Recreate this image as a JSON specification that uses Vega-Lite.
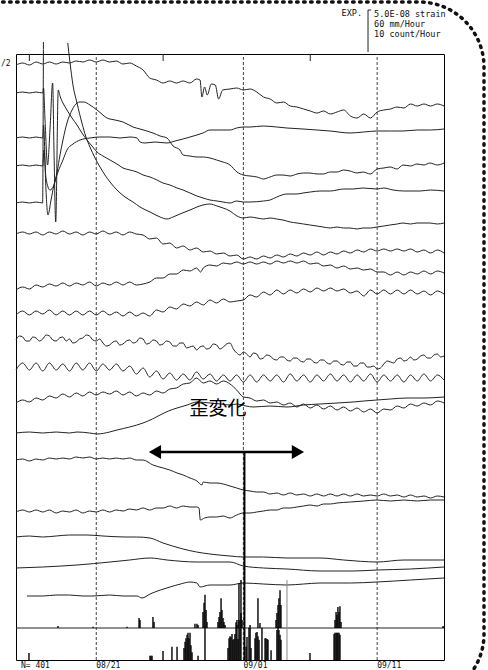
{
"$schema": "https://vega.github.io/schema/vega-lite/v6.json",
"width": 428, "height": 606,
"autosize": {"type": "none"},
"padding": {"left": 16, "top": 54, "right": 44, "bottom": 10},
"background": "white",
"config": {"view": {"stroke": "#000", "strokeWidth": 1}},
"datasets": {
"tr": [
{"s":"a","t":0,"v":595},{"s":"a","t":0.5,"v":597},{"s":"a","t":1,"v":595},{"s":"a","t":1.5,"v":598},{"s":"a","t":2,"v":596},{"s":"a","t":2.5,"v":598},{"s":"a","t":3,"v":596},{"s":"a","t":3.5,"v":598},{"s":"a","t":4,"v":597},{"s":"a","t":4.5,"v":599},{"s":"a","t":5,"v":598},{"s":"a","t":5.5,"v":600},{"s":"a","t":6,"v":598},{"s":"a","t":6.5,"v":600},{"s":"a","t":7,"v":598},{"s":"a","t":7.5,"v":599},{"s":"a","t":8,"v":596},{"s":"a","t":8.5,"v":597},{"s":"a","t":9,"v":594},{"s":"a","t":9.5,"v":590},{"s":"a","t":10,"v":582},{"s":"a","t":10.5,"v":580},{"s":"a","t":11,"v":577},{"s":"a","t":11.5,"v":579},{"s":"a","t":12,"v":577},{"s":"a","t":12.5,"v":579},{"s":"a","t":13,"v":577},{"s":"a","t":13.5,"v":581},{"s":"a","t":13.76,"v":580},{"s":"a","t":13.9,"v":563},{"s":"a","t":14.1,"v":573},{"s":"a","t":14.3,"v":565},{"s":"a","t":14.6,"v":576},{"s":"a","t":14.9,"v":575},{"s":"a","t":15.15,"v":561},{"s":"a","t":15.45,"v":570},{"s":"a","t":16,"v":571},{"s":"a","t":16.5,"v":572},{"s":"a","t":17,"v":570},{"s":"a","t":17.5,"v":571},{"s":"a","t":18,"v":568},{"s":"a","t":18.5,"v":563},{"s":"a","t":19,"v":561},{"s":"a","t":19.5,"v":557},{"s":"a","t":20,"v":558},{"s":"a","t":20.5,"v":554},{"s":"a","t":21,"v":553},{"s":"a","t":21.5,"v":551},{"s":"a","t":22,"v":549},{"s":"a","t":22.5,"v":547},{"s":"a","t":23,"v":549},{"s":"a","t":23.5,"v":546},{"s":"a","t":24,"v":548},{"s":"a","t":24.5,"v":550},{"s":"a","t":25,"v":544},{"s":"a","t":25.5,"v":542},{"s":"a","t":26,"v":546},{"s":"a","t":26.5,"v":542},{"s":"a","t":27,"v":548},{"s":"a","t":27.5,"v":550},{"s":"a","t":28,"v":551},{"s":"a","t":28.5,"v":553},{"s":"a","t":29,"v":552},{"s":"a","t":29.5,"v":556},{"s":"a","t":30,"v":554},{"s":"a","t":30.5,"v":556},{"s":"a","t":31,"v":554},{"s":"a","t":31.5,"v":556},{"s":"a","t":32,"v":554},
{"s":"b","t":0,"v":567},{"s":"b","t":0.5,"v":568},{"s":"b","t":1,"v":567},{"s":"b","t":1.5,"v":568},{"s":"b","t":2,"v":567},{"s":"b","t":2.06,"v":572},{"s":"b","t":2.17,"v":540},{"s":"b","t":2.36,"v":495},{"s":"b","t":2.54,"v":530},{"s":"b","t":2.74,"v":577},{"s":"b","t":2.84,"v":510},{"s":"b","t":2.97,"v":438},{"s":"b","t":3.16,"v":570},{"s":"b","t":3.29,"v":564},{"s":"b","t":3.51,"v":557},{"s":"b","t":3.81,"v":550},{"s":"b","t":4.19,"v":542},{"s":"b","t":4.56,"v":535},{"s":"b","t":4.93,"v":527},{"s":"b","t":5.31,"v":520},{"s":"b","t":5.68,"v":514},{"s":"b","t":6.06,"v":508},{"s":"b","t":6.5,"v":504},{"s":"b","t":7.03,"v":500},{"s":"b","t":7.55,"v":496},{"s":"b","t":8,"v":492},{"s":"b","t":8.52,"v":490},{"s":"b","t":9.05,"v":488},{"s":"b","t":9.5,"v":485},{"s":"b","t":10.02,"v":483},{"s":"b","t":10.54,"v":480},{"s":"b","t":10.99,"v":477},{"s":"b","t":11.51,"v":475},{"s":"b","t":12.04,"v":472},{"s":"b","t":12.49,"v":470},{"s":"b","t":13.01,"v":467},{"s":"b","t":13.53,"v":464},{"s":"b","t":13.98,"v":462},{"s":"b","t":14.5,"v":460},{"s":"b","t":15.03,"v":459},{"s":"b","t":15.48,"v":458},{"s":"b","t":16,"v":457},{"s":"b","t":16.5,"v":459},{"s":"b","t":17,"v":458},{"s":"b","t":17.5,"v":458},{"s":"b","t":18.5,"v":459},{"s":"b","t":19,"v":460},{"s":"b","t":19.5,"v":463},{"s":"b","t":20.26,"v":466},{"s":"b","t":21,"v":466},{"s":"b","t":21.46,"v":467},{"s":"b","t":22,"v":468},{"s":"b","t":22.73,"v":469},{"s":"b","t":23.5,"v":469},{"s":"b","t":24.5,"v":471},{"s":"b","t":25.2,"v":471},{"s":"b","t":25.94,"v":472},{"s":"b","t":26.99,"v":471},{"s":"b","t":27.5,"v":472},{"s":"b","t":28.19,"v":470},{"s":"b","t":29,"v":469},{"s":"b","t":30.21,"v":469},{"s":"b","t":31,"v":470},{"s":"b","t":32,"v":469},
{"s":"c","t":0,"v":522},{"s":"c","t":0.5,"v":523},{"s":"c","t":1,"v":522},{"s":"c","t":1.5,"v":523},{"s":"c","t":2,"v":522},{"s":"c","t":2.06,"v":535},{"s":"c","t":2.24,"v":470},{"s":"c","t":2.39,"v":445},{"s":"c","t":2.62,"v":460},{"s":"c","t":2.84,"v":475},{"s":"c","t":3.14,"v":488},{"s":"c","t":3.51,"v":500},{"s":"c","t":3.81,"v":510},{"s":"c","t":4.26,"v":516},{"s":"c","t":4.79,"v":520},{"s":"c","t":5.53,"v":522},{"s":"c","t":6.28,"v":523},{"s":"c","t":7.03,"v":523},{"s":"c","t":7.78,"v":522},{"s":"c","t":8.52,"v":523},{"s":"c","t":9.05,"v":522},{"s":"c","t":9.27,"v":518},{"s":"c","t":9.64,"v":517},{"s":"c","t":10.39,"v":518},{"s":"c","t":11.29,"v":517},{"s":"c","t":11.89,"v":519},{"s":"c","t":12.49,"v":521},{"s":"c","t":13.01,"v":523},{"s":"c","t":13.53,"v":525},{"s":"c","t":13.98,"v":527},{"s":"c","t":14.5,"v":530},{"s":"c","t":15.03,"v":530},{"s":"c","t":16,"v":530},{"s":"c","t":16.5,"v":532},{"s":"c","t":17,"v":533},{"s":"c","t":17.5,"v":533},{"s":"c","t":18.47,"v":534},{"s":"c","t":19.5,"v":533},{"s":"c","t":20.26,"v":532},{"s":"c","t":21.46,"v":531},{"s":"c","t":22.5,"v":530},{"s":"c","t":23.48,"v":529},{"s":"c","t":24.97,"v":527},{"s":"c","t":26,"v":528},{"s":"c","t":26.99,"v":529},{"s":"c","t":28,"v":529},{"s":"c","t":28.93,"v":529},{"s":"c","t":30,"v":530},{"s":"c","t":31,"v":530},{"s":"c","t":32,"v":531},
{"s":"d","t":0,"v":494},{"s":"d","t":0.5,"v":495},{"s":"d","t":1,"v":494},{"s":"d","t":1.5,"v":495},{"s":"d","t":2,"v":494},{"s":"d","t":2.09,"v":510},{"s":"d","t":2.24,"v":482},{"s":"d","t":2.54,"v":470},{"s":"d","t":2.84,"v":475},{"s":"d","t":3.07,"v":488},{"s":"d","t":3.29,"v":505},{"s":"d","t":3.51,"v":520},{"s":"d","t":3.81,"v":537},{"s":"d","t":4.19,"v":550},{"s":"d","t":4.56,"v":557},{"s":"d","t":4.79,"v":558},{"s":"d","t":5.08,"v":558},{"s":"d","t":5.53,"v":555},{"s":"d","t":6.06,"v":550},{"s":"d","t":6.5,"v":545},{"s":"d","t":6.8,"v":542},{"s":"d","t":7.4,"v":540},{"s":"d","t":8,"v":538},{"s":"d","t":8.75,"v":533},{"s":"d","t":9.27,"v":531},{"s":"d","t":9.79,"v":529},{"s":"d","t":10.24,"v":527},{"s":"d","t":10.77,"v":524},{"s":"d","t":11.29,"v":522},{"s":"d","t":11.74,"v":514},{"s":"d","t":12.26,"v":510},{"s":"d","t":12.49,"v":505},{"s":"d","t":13,"v":504},{"s":"d","t":13.53,"v":503},{"s":"d","t":14,"v":503},{"s":"d","t":14.5,"v":502},{"s":"d","t":15,"v":500},{"s":"d","t":15.48,"v":498},{"s":"d","t":16,"v":495},{"s":"d","t":16.52,"v":488},{"s":"d","t":16.99,"v":485},{"s":"d","t":17.5,"v":484},{"s":"d","t":18.02,"v":483},{"s":"d","t":18.5,"v":481},{"s":"d","t":18.99,"v":483},{"s":"d","t":19.5,"v":485},{"s":"d","t":19.96,"v":485},{"s":"d","t":20.5,"v":484},{"s":"d","t":21.01,"v":486},{"s":"d","t":21.5,"v":487},{"s":"d","t":21.98,"v":487},{"s":"d","t":22.5,"v":486},{"s":"d","t":22.95,"v":486},{"s":"d","t":23.5,"v":488},{"s":"d","t":24,"v":488},{"s":"d","t":24.5,"v":490},{"s":"d","t":24.97,"v":489},{"s":"d","t":25.5,"v":487},{"s":"d","t":25.94,"v":488},{"s":"d","t":26.5,"v":486},{"s":"d","t":26.99,"v":491},{"s":"d","t":27.5,"v":492},{"s":"d","t":27.96,"v":493},{"s":"d","t":28.5,"v":491},{"s":"d","t":28.93,"v":495},{"s":"d","t":29.5,"v":494},{"s":"d","t":29.98,"v":496},{"s":"d","t":30.5,"v":495},{"s":"d","t":30.95,"v":497},{"s":"d","t":31.5,"v":495},{"s":"d","t":32,"v":497},
{"s":"e1","t":0,"v":457},{"s":"e1","t":0.5,"v":458},{"s":"e1","t":1,"v":457},{"s":"e1","t":1.5,"v":458},{"s":"e1","t":1.99,"v":457},{"s":"e1","t":2.05,"v":618},
{"s":"e2","t":3.87,"v":617},{"s":"e2","t":4.04,"v":597},{"s":"e2","t":4.26,"v":575},{"s":"e2","t":4.56,"v":557},{"s":"e2","t":4.93,"v":537},{"s":"e2","t":5.23,"v":523},{"s":"e2","t":5.53,"v":513},{"s":"e2","t":5.91,"v":502},{"s":"e2","t":6.28,"v":493},{"s":"e2","t":6.65,"v":485},{"s":"e2","t":7.03,"v":478},{"s":"e2","t":7.55,"v":470},{"s":"e2","t":8.15,"v":463},{"s":"e2","t":8.75,"v":458},{"s":"e2","t":9.27,"v":453},{"s":"e2","t":10.02,"v":448},{"s":"e2","t":10.77,"v":443},{"s":"e2","t":11.29,"v":441},{"s":"e2","t":11.74,"v":443},{"s":"e2","t":12.26,"v":446},{"s":"e2","t":13.01,"v":450},{"s":"e2","t":13.53,"v":453},{"s":"e2","t":13.98,"v":455},{"s":"e2","t":14.5,"v":456},{"s":"e2","t":15.03,"v":454},{"s":"e2","t":15.48,"v":452},{"s":"e2","t":16,"v":449},{"s":"e2","t":16.52,"v":444},{"s":"e2","t":16.99,"v":442},{"s":"e2","t":17.5,"v":443},{"s":"e2","t":18.02,"v":442},{"s":"e2","t":18.5,"v":441},{"s":"e2","t":18.99,"v":442},{"s":"e2","t":19.5,"v":441},{"s":"e2","t":19.96,"v":440},{"s":"e2","t":20.5,"v":438},{"s":"e2","t":21.01,"v":437},{"s":"e2","t":21.5,"v":436},{"s":"e2","t":21.98,"v":435},{"s":"e2","t":22.5,"v":434},{"s":"e2","t":22.95,"v":433},{"s":"e2","t":23.5,"v":432},{"s":"e2","t":24,"v":433},{"s":"e2","t":24.5,"v":432},{"s":"e2","t":24.97,"v":432},{"s":"e2","t":25.5,"v":431},{"s":"e2","t":25.94,"v":432},{"s":"e2","t":26.5,"v":432},{"s":"e2","t":26.99,"v":433},{"s":"e2","t":27.5,"v":434},{"s":"e2","t":27.96,"v":435},{"s":"e2","t":28.5,"v":436},{"s":"e2","t":28.93,"v":437},{"s":"e2","t":29.5,"v":436},{"s":"e2","t":29.98,"v":437},{"s":"e2","t":30.5,"v":437},{"s":"e2","t":30.95,"v":437},{"s":"e2","t":31.5,"v":436},{"s":"e2","t":32,"v":437},
{"s":"f","t":0,"v":426},{"s":"f","t":0.5,"v":428},{"s":"f","t":1,"v":426},{"s":"f","t":1.5,"v":428},{"s":"f","t":2,"v":425},{"s":"f","t":2.5,"v":428},{"s":"f","t":3,"v":426},{"s":"f","t":3.5,"v":429},{"s":"f","t":4,"v":426},{"s":"f","t":4.5,"v":428},{"s":"f","t":5,"v":425},{"s":"f","t":5.5,"v":428},{"s":"f","t":6,"v":426},{"s":"f","t":6.5,"v":429},{"s":"f","t":7,"v":426},{"s":"f","t":7.5,"v":428},{"s":"f","t":8,"v":425},{"s":"f","t":8.5,"v":428},{"s":"f","t":9,"v":426},{"s":"f","t":9.5,"v":425},{"s":"f","t":10,"v":421},{"s":"f","t":10.5,"v":422},{"s":"f","t":11,"v":416},{"s":"f","t":11.5,"v":417},{"s":"f","t":12,"v":412},{"s":"f","t":12.5,"v":414},{"s":"f","t":13,"v":410},{"s":"f","t":13.5,"v":412},{"s":"f","t":14,"v":408},{"s":"f","t":14.5,"v":409},{"s":"f","t":15,"v":406},{"s":"f","t":15.5,"v":407},{"s":"f","t":16,"v":404},{"s":"f","t":16.5,"v":405},{"s":"f","t":17,"v":401},{"s":"f","t":17.5,"v":403},{"s":"f","t":18,"v":401},{"s":"f","t":18.5,"v":404},{"s":"f","t":19,"v":402},{"s":"f","t":19.5,"v":405},{"s":"f","t":20,"v":403},{"s":"f","t":20.5,"v":406},{"s":"f","t":21,"v":404},{"s":"f","t":21.5,"v":407},{"s":"f","t":22,"v":405},{"s":"f","t":22.5,"v":408},{"s":"f","t":23,"v":405},{"s":"f","t":23.5,"v":408},{"s":"f","t":24,"v":406},{"s":"f","t":24.5,"v":409},{"s":"f","t":25,"v":407},{"s":"f","t":25.5,"v":410},{"s":"f","t":26,"v":408},{"s":"f","t":26.5,"v":411},{"s":"f","t":27,"v":409},{"s":"f","t":27.5,"v":411},{"s":"f","t":28,"v":409},{"s":"f","t":28.5,"v":411},{"s":"f","t":29,"v":409},{"s":"f","t":29.5,"v":411},{"s":"f","t":30,"v":408},{"s":"f","t":30.5,"v":410},{"s":"f","t":31,"v":407},{"s":"f","t":31.5,"v":410},{"s":"f","t":32,"v":407},
{"s":"g","t":0,"v":370},{"s":"g","t":0.5,"v":373},{"s":"g","t":1,"v":371},{"s":"g","t":1.5,"v":375},{"s":"g","t":2,"v":373},{"s":"g","t":2.5,"v":376},{"s":"g","t":3,"v":374},{"s":"g","t":3.5,"v":377},{"s":"g","t":4,"v":374},{"s":"g","t":4.5,"v":377},{"s":"g","t":5,"v":375},{"s":"g","t":5.5,"v":378},{"s":"g","t":6,"v":374},{"s":"g","t":6.5,"v":377},{"s":"g","t":7,"v":375},{"s":"g","t":7.5,"v":378},{"s":"g","t":8,"v":375},{"s":"g","t":8.5,"v":378},{"s":"g","t":9,"v":375},{"s":"g","t":9.5,"v":376},{"s":"g","t":10,"v":378},{"s":"g","t":10.5,"v":382},{"s":"g","t":11,"v":382},{"s":"g","t":11.5,"v":386},{"s":"g","t":12,"v":386},{"s":"g","t":12.5,"v":390},{"s":"g","t":13,"v":389},{"s":"g","t":13.5,"v":392},{"s":"g","t":13.8,"v":388},{"s":"g","t":14,"v":392},{"s":"g","t":14.5,"v":395},{"s":"g","t":15,"v":394},{"s":"g","t":15.5,"v":397},{"s":"g","t":16,"v":396},{"s":"g","t":16.5,"v":398},{"s":"g","t":17,"v":396},{"s":"g","t":17.5,"v":398},{"s":"g","t":18,"v":396},{"s":"g","t":18.5,"v":398},{"s":"g","t":19,"v":396},{"s":"g","t":19.5,"v":399},{"s":"g","t":20,"v":397},{"s":"g","t":20.5,"v":399},{"s":"g","t":21,"v":397},{"s":"g","t":21.5,"v":399},{"s":"g","t":22,"v":396},{"s":"g","t":22.5,"v":397},{"s":"g","t":23,"v":394},{"s":"g","t":23.5,"v":395},{"s":"g","t":24,"v":392},{"s":"g","t":24.5,"v":394},{"s":"g","t":25,"v":391},{"s":"g","t":25.5,"v":392},{"s":"g","t":26,"v":390},{"s":"g","t":26.5,"v":391},{"s":"g","t":27,"v":388},{"s":"g","t":27.5,"v":388},{"s":"g","t":28,"v":385},{"s":"g","t":28.5,"v":388},{"s":"g","t":29,"v":385},{"s":"g","t":29.5,"v":388},{"s":"g","t":30,"v":386},{"s":"g","t":30.5,"v":389},{"s":"g","t":31,"v":386},{"s":"g","t":31.5,"v":389},{"s":"g","t":32,"v":387},
{"s":"h","t":0,"v":345},{"s":"h","t":0.5,"v":349},{"s":"h","t":1,"v":345},{"s":"h","t":1.5,"v":349},{"s":"h","t":2,"v":346},{"s":"h","t":2.5,"v":350},{"s":"h","t":3,"v":345},{"s":"h","t":3.5,"v":349},{"s":"h","t":4,"v":345},{"s":"h","t":4.5,"v":349},{"s":"h","t":5,"v":345},{"s":"h","t":5.5,"v":349},{"s":"h","t":6,"v":345},{"s":"h","t":6.5,"v":349},{"s":"h","t":7,"v":345},{"s":"h","t":7.5,"v":348},{"s":"h","t":8,"v":344},{"s":"h","t":8.5,"v":348},{"s":"h","t":9,"v":344},{"s":"h","t":9.5,"v":347},{"s":"h","t":10,"v":344},{"s":"h","t":10.5,"v":350},{"s":"h","t":11,"v":348},{"s":"h","t":11.5,"v":353},{"s":"h","t":12,"v":351},{"s":"h","t":12.5,"v":356},{"s":"h","t":13,"v":354},{"s":"h","t":13.5,"v":358},{"s":"h","t":14,"v":355},{"s":"h","t":14.5,"v":360},{"s":"h","t":15,"v":357},{"s":"h","t":15.5,"v":361},{"s":"h","t":16,"v":358},{"s":"h","t":16.5,"v":359},{"s":"h","t":17,"v":360},{"s":"h","t":17.5,"v":365},{"s":"h","t":18,"v":363},{"s":"h","t":18.5,"v":368},{"s":"h","t":19,"v":365},{"s":"h","t":19.5,"v":370},{"s":"h","t":20,"v":366},{"s":"h","t":20.5,"v":370},{"s":"h","t":21,"v":367},{"s":"h","t":21.5,"v":371},{"s":"h","t":22,"v":368},{"s":"h","t":22.5,"v":372},{"s":"h","t":23,"v":369},{"s":"h","t":23.5,"v":372},{"s":"h","t":24,"v":369},{"s":"h","t":24.5,"v":371},{"s":"h","t":25,"v":367},{"s":"h","t":25.5,"v":369},{"s":"h","t":26,"v":364},{"s":"h","t":26.5,"v":370},{"s":"h","t":27,"v":366},{"s":"h","t":27.5,"v":370},{"s":"h","t":28,"v":366},{"s":"h","t":28.5,"v":370},{"s":"h","t":29,"v":366},{"s":"h","t":29.5,"v":370},{"s":"h","t":30,"v":366},{"s":"h","t":30.5,"v":369},{"s":"h","t":31,"v":365},{"s":"h","t":31.5,"v":369},{"s":"h","t":32,"v":366},
{"s":"i","t":0,"v":320},{"s":"i","t":0.5,"v":323},{"s":"i","t":1,"v":319},{"s":"i","t":1.5,"v":322},{"s":"i","t":2,"v":321},{"s":"i","t":2.5,"v":324},{"s":"i","t":3,"v":319},{"s":"i","t":3.5,"v":323},{"s":"i","t":4,"v":321},{"s":"i","t":4.5,"v":318},{"s":"i","t":5,"v":322},{"s":"i","t":5.5,"v":324},{"s":"i","t":6,"v":319},{"s":"i","t":6.5,"v":317},{"s":"i","t":7,"v":315},{"s":"i","t":7.5,"v":319},{"s":"i","t":8,"v":316},{"s":"i","t":8.5,"v":320},{"s":"i","t":9,"v":318},{"s":"i","t":9.5,"v":321},{"s":"i","t":10,"v":317},{"s":"i","t":10.5,"v":319},{"s":"i","t":11,"v":316},{"s":"i","t":11.5,"v":318},{"s":"i","t":12,"v":314},{"s":"i","t":12.5,"v":317},{"s":"i","t":13,"v":313},{"s":"i","t":13.5,"v":310},{"s":"i","t":14,"v":314},{"s":"i","t":14.5,"v":312},{"s":"i","t":15,"v":315},{"s":"i","t":15.5,"v":313},{"s":"i","t":16,"v":317},{"s":"i","t":16.5,"v":307},{"s":"i","t":17,"v":308},{"s":"i","t":17.5,"v":303},{"s":"i","t":18,"v":306},{"s":"i","t":18.5,"v":302},{"s":"i","t":19,"v":304},{"s":"i","t":19.5,"v":300},{"s":"i","t":20,"v":303},{"s":"i","t":20.5,"v":299},{"s":"i","t":21,"v":302},{"s":"i","t":21.5,"v":298},{"s":"i","t":22,"v":301},{"s":"i","t":22.5,"v":297},{"s":"i","t":23,"v":300},{"s":"i","t":23.5,"v":296},{"s":"i","t":24,"v":299},{"s":"i","t":24.5,"v":295},{"s":"i","t":25,"v":298},{"s":"i","t":25.5,"v":294},{"s":"i","t":26,"v":297},{"s":"i","t":26.5,"v":293},{"s":"i","t":27,"v":291},{"s":"i","t":27.5,"v":296},{"s":"i","t":28,"v":298},{"s":"i","t":28.5,"v":301},{"s":"i","t":29,"v":299},{"s":"i","t":29.5,"v":303},{"s":"i","t":30,"v":301},{"s":"i","t":30.5,"v":305},{"s":"i","t":31,"v":302},{"s":"i","t":31.5,"v":306},{"s":"i","t":32,"v":304},
{"s":"i","t":0.25,"v":324},{"s":"i","t":0.75,"v":319},{"s":"i","t":1.25,"v":323},{"s":"i","t":1.75,"v":319},{"s":"i","t":2.25,"v":325},{"s":"i","t":2.75,"v":320},{"s":"i","t":3.25,"v":322},{"s":"i","t":3.75,"v":319},{"s":"i","t":4.25,"v":317},{"s":"i","t":4.75,"v":321},{"s":"i","t":5.25,"v":325},{"s":"i","t":5.75,"v":320},{"s":"i","t":6.25,"v":321},{"s":"i","t":6.75,"v":314},{"s":"i","t":7.25,"v":318},{"s":"i","t":7.75,"v":315},{"s":"i","t":8.25,"v":319},{"s":"i","t":8.75,"v":317},{"s":"i","t":9.25,"v":322},{"s":"i","t":9.75,"v":316},{"s":"i","t":10.25,"v":320},{"s":"i","t":10.75,"v":315},{"s":"i","t":11.25,"v":319},{"s":"i","t":11.75,"v":314},{"s":"i","t":12.25,"v":317},{"s":"i","t":12.75,"v":312},{"s":"i","t":13.25,"v":314},{"s":"i","t":13.75,"v":313},{"s":"i","t":14.25,"v":311},{"s":"i","t":14.75,"v":316},{"s":"i","t":15.25,"v":311},{"s":"i","t":15.75,"v":316},{"s":"i","t":16.25,"v":311},{"s":"i","t":16.75,"v":305},{"s":"i","t":17.25,"v":306},{"s":"i","t":17.75,"v":307},{"s":"i","t":18.25,"v":301},{"s":"i","t":18.75,"v":305},{"s":"i","t":19.25,"v":301},{"s":"i","t":19.75,"v":303},{"s":"i","t":20.25,"v":300},{"s":"i","t":20.75,"v":302},{"s":"i","t":21.25,"v":299},{"s":"i","t":21.75,"v":301},{"s":"i","t":22.25,"v":298},{"s":"i","t":22.75,"v":300},{"s":"i","t":23.25,"v":297},{"s":"i","t":23.75,"v":299},{"s":"i","t":24.25,"v":296},{"s":"i","t":24.75,"v":298},{"s":"i","t":25.25,"v":294},{"s":"i","t":25.75,"v":297},{"s":"i","t":26.25,"v":293},{"s":"i","t":26.75,"v":294},{"s":"i","t":27.25,"v":292},{"s":"i","t":27.75,"v":299},{"s":"i","t":28.25,"v":297},{"s":"i","t":28.75,"v":302},{"s":"i","t":29.25,"v":300},{"s":"i","t":29.75,"v":300},{"s":"i","t":30.25,"v":304},{"s":"i","t":30.75,"v":302},{"s":"i","t":31.25,"v":305},{"s":"i","t":31.75,"v":303},
{"s":"j","t":0,"v":290},{"s":"j","t":0.5,"v":297},{"s":"j","t":1,"v":290},{"s":"j","t":1.5,"v":297},{"s":"j","t":2,"v":289},{"s":"j","t":2.5,"v":297},{"s":"j","t":3,"v":290},{"s":"j","t":3.5,"v":296},{"s":"j","t":4,"v":289},{"s":"j","t":4.5,"v":297},{"s":"j","t":5,"v":290},{"s":"j","t":5.5,"v":297},{"s":"j","t":6,"v":289},{"s":"j","t":6.5,"v":296},{"s":"j","t":7,"v":290},{"s":"j","t":7.5,"v":296},{"s":"j","t":8,"v":289},{"s":"j","t":8.5,"v":294},{"s":"j","t":9,"v":286},{"s":"j","t":9.5,"v":292},{"s":"j","t":10,"v":283},{"s":"j","t":10.5,"v":289},{"s":"j","t":11,"v":281},{"s":"j","t":11.5,"v":287},{"s":"j","t":12,"v":280},{"s":"j","t":12.5,"v":286},{"s":"j","t":13,"v":280},{"s":"j","t":13.5,"v":288},{"s":"j","t":14,"v":281},{"s":"j","t":14.5,"v":286},{"s":"j","t":15,"v":279},{"s":"j","t":15.5,"v":285},{"s":"j","t":16,"v":279},{"s":"j","t":16.5,"v":285},{"s":"j","t":17,"v":278},{"s":"j","t":17.5,"v":285},{"s":"j","t":18,"v":278},{"s":"j","t":18.5,"v":285},{"s":"j","t":19,"v":279},{"s":"j","t":19.5,"v":285},{"s":"j","t":20,"v":278},{"s":"j","t":20.5,"v":286},{"s":"j","t":21,"v":279},{"s":"j","t":21.5,"v":285},{"s":"j","t":22,"v":278},{"s":"j","t":22.5,"v":285},{"s":"j","t":23,"v":279},{"s":"j","t":23.5,"v":286},{"s":"j","t":24,"v":279},{"s":"j","t":24.5,"v":285},{"s":"j","t":25,"v":278},{"s":"j","t":25.5,"v":285},{"s":"j","t":26,"v":279},{"s":"j","t":26.5,"v":286},{"s":"j","t":27,"v":278},{"s":"j","t":27.5,"v":285},{"s":"j","t":28,"v":279},{"s":"j","t":28.5,"v":285},{"s":"j","t":29,"v":278},{"s":"j","t":29.5,"v":285},{"s":"j","t":30,"v":279},{"s":"j","t":30.5,"v":286},{"s":"j","t":31,"v":279},{"s":"j","t":31.5,"v":285},{"s":"j","t":32,"v":280},
{"s":"k","t":0,"v":257},{"s":"k","t":0.5,"v":260},{"s":"k","t":1,"v":258},{"s":"k","t":1.5,"v":262},{"s":"k","t":2,"v":260},{"s":"k","t":2.5,"v":264},{"s":"k","t":3,"v":262},{"s":"k","t":3.5,"v":266},{"s":"k","t":4,"v":263},{"s":"k","t":4.5,"v":267},{"s":"k","t":5,"v":264},{"s":"k","t":5.5,"v":268},{"s":"k","t":6,"v":265},{"s":"k","t":6.5,"v":268},{"s":"k","t":7,"v":266},{"s":"k","t":7.5,"v":269},{"s":"k","t":8,"v":265},{"s":"k","t":8.5,"v":268},{"s":"k","t":9,"v":264},{"s":"k","t":9.5,"v":267},{"s":"k","t":10,"v":265},{"s":"k","t":10.5,"v":269},{"s":"k","t":11,"v":267},{"s":"k","t":11.5,"v":271},{"s":"k","t":12,"v":272},{"s":"k","t":12.5,"v":276},{"s":"k","t":13,"v":277},{"s":"k","t":13.5,"v":282},{"s":"k","t":14,"v":277},{"s":"k","t":14.5,"v":279},{"s":"k","t":15,"v":276},{"s":"k","t":15.5,"v":279},{"s":"k","t":16,"v":276},{"s":"k","t":16.5,"v":270},{"s":"k","t":17,"v":263},{"s":"k","t":17.5,"v":262},{"s":"k","t":18,"v":259},{"s":"k","t":18.5,"v":260},{"s":"k","t":19,"v":257},{"s":"k","t":19.5,"v":258},{"s":"k","t":20,"v":255},{"s":"k","t":20.5,"v":257},{"s":"k","t":21,"v":253},{"s":"k","t":21.5,"v":256},{"s":"k","t":22,"v":252},{"s":"k","t":22.5,"v":255},{"s":"k","t":23,"v":251},{"s":"k","t":23.5,"v":254},{"s":"k","t":24,"v":250},{"s":"k","t":24.5,"v":253},{"s":"k","t":25,"v":249},{"s":"k","t":25.5,"v":252},{"s":"k","t":26,"v":248},{"s":"k","t":26.5,"v":251},{"s":"k","t":27,"v":247},{"s":"k","t":27.5,"v":251},{"s":"k","t":28,"v":250},{"s":"k","t":28.5,"v":254},{"s":"k","t":29,"v":252},{"s":"k","t":29.5,"v":256},{"s":"k","t":30,"v":254},{"s":"k","t":30.5,"v":257},{"s":"k","t":31,"v":255},{"s":"k","t":31.5,"v":259},{"s":"k","t":32,"v":257},
{"s":"l","t":0,"v":227},{"s":"l","t":1,"v":228},{"s":"l","t":2,"v":227},{"s":"l","t":3,"v":228},{"s":"l","t":4,"v":227},{"s":"l","t":4.56,"v":228},{"s":"l","t":5.5,"v":227},{"s":"l","t":6.06,"v":226},{"s":"l","t":7,"v":228},{"s":"l","t":7.55,"v":230},{"s":"l","t":8.5,"v":233},{"s":"l","t":9.5,"v":237},{"s":"l","t":10.2,"v":241},{"s":"l","t":10.77,"v":245},{"s":"l","t":11.4,"v":249},{"s":"l","t":12.04,"v":252},{"s":"l","t":12.8,"v":255},{"s":"l","t":13.53,"v":258},{"s":"l","t":14.5,"v":257},{"s":"l","t":15.3,"v":256},{"s":"l","t":16,"v":255},{"s":"l","t":16.5,"v":256},{"s":"l","t":17.2,"v":254},{"s":"l","t":17.72,"v":253},{"s":"l","t":19,"v":254},{"s":"l","t":20.26,"v":253},{"s":"l","t":21.5,"v":255},{"s":"l","t":22.73,"v":256},{"s":"l","t":24,"v":257},{"s":"l","t":25.2,"v":258},{"s":"l","t":26,"v":259},{"s":"l","t":26.99,"v":260},{"s":"l","t":28,"v":261},{"s":"l","t":29.23,"v":262},{"s":"l","t":30.5,"v":262},{"s":"l","t":32,"v":263},
{"s":"m","t":0,"v":200},{"s":"m","t":0.5,"v":201},{"s":"m","t":1,"v":199},{"s":"m","t":1.5,"v":201},{"s":"m","t":2,"v":200},{"s":"m","t":2.5,"v":202},{"s":"m","t":3,"v":201},{"s":"m","t":3.5,"v":202},{"s":"m","t":4,"v":201},{"s":"m","t":4.5,"v":203},{"s":"m","t":5,"v":202},{"s":"m","t":5.5,"v":203},{"s":"m","t":6,"v":201},{"s":"m","t":6.5,"v":202},{"s":"m","t":7,"v":201},{"s":"m","t":7.5,"v":202},{"s":"m","t":8,"v":201},{"s":"m","t":8.5,"v":202},{"s":"m","t":9,"v":200},{"s":"m","t":9.5,"v":200},{"s":"m","t":10.24,"v":195},{"s":"m","t":11,"v":192},{"s":"m","t":11.5,"v":190},{"s":"m","t":12.04,"v":187},{"s":"m","t":12.5,"v":185},{"s":"m","t":13.01,"v":182},{"s":"m","t":13.53,"v":179},{"s":"m","t":13.9,"v":175},{"s":"m","t":14,"v":178},{"s":"m","t":14.5,"v":177},{"s":"m","t":15.03,"v":177},{"s":"m","t":15.5,"v":176},{"s":"m","t":16,"v":174},{"s":"m","t":16.5,"v":172},{"s":"m","t":17,"v":170},{"s":"m","t":17.5,"v":169},{"s":"m","t":18,"v":168},{"s":"m","t":18.5,"v":168},{"s":"m","t":19,"v":166},{"s":"m","t":19.5,"v":167},{"s":"m","t":20,"v":165},{"s":"m","t":20.5,"v":167},{"s":"m","t":21,"v":165},{"s":"m","t":21.5,"v":166},{"s":"m","t":22,"v":164},{"s":"m","t":22.5,"v":166},{"s":"m","t":23,"v":164},{"s":"m","t":23.5,"v":166},{"s":"m","t":24,"v":164},{"s":"m","t":24.5,"v":166},{"s":"m","t":25,"v":164},{"s":"m","t":25.5,"v":166},{"s":"m","t":26,"v":164},{"s":"m","t":26.5,"v":165},{"s":"m","t":27,"v":164},{"s":"m","t":27.5,"v":166},{"s":"m","t":28,"v":164},{"s":"m","t":28.5,"v":165},{"s":"m","t":29,"v":163},{"s":"m","t":29.5,"v":165},{"s":"m","t":30,"v":163},{"s":"m","t":30.5,"v":164},{"s":"m","t":31,"v":162},{"s":"m","t":31.5,"v":164},{"s":"m","t":32,"v":163},
{"s":"n","t":0,"v":148},{"s":"n","t":0.5,"v":150},{"s":"n","t":1,"v":148},{"s":"n","t":1.5,"v":150},{"s":"n","t":2,"v":148},{"s":"n","t":2.5,"v":150},{"s":"n","t":3,"v":147},{"s":"n","t":3.5,"v":149},{"s":"n","t":4,"v":148},{"s":"n","t":4.5,"v":150},{"s":"n","t":5,"v":147},{"s":"n","t":5.5,"v":149},{"s":"n","t":6,"v":148},{"s":"n","t":6.5,"v":150},{"s":"n","t":7,"v":148},{"s":"n","t":7.5,"v":150},{"s":"n","t":8,"v":149},{"s":"n","t":8.5,"v":151},{"s":"n","t":9,"v":150},{"s":"n","t":9.5,"v":152},{"s":"n","t":10,"v":150},{"s":"n","t":10.5,"v":152},{"s":"n","t":11,"v":152},{"s":"n","t":11.5,"v":154},{"s":"n","t":12,"v":152},{"s":"n","t":12.5,"v":154},{"s":"n","t":13,"v":153},{"s":"n","t":13.5,"v":153},{"s":"n","t":13.68,"v":152},{"s":"n","t":13.78,"v":140},{"s":"n","t":14.1,"v":142},{"s":"n","t":14.5,"v":143},{"s":"n","t":15,"v":143},{"s":"n","t":15.48,"v":144},{"s":"n","t":16,"v":142},{"s":"n","t":16.5,"v":145},{"s":"n","t":17,"v":147},{"s":"n","t":17.5,"v":147},{"s":"n","t":18,"v":148},{"s":"n","t":18.5,"v":149},{"s":"n","t":19,"v":150},{"s":"n","t":19.5,"v":150},{"s":"n","t":20,"v":152},{"s":"n","t":20.5,"v":152},{"s":"n","t":21,"v":153},{"s":"n","t":21.5,"v":154},{"s":"n","t":22,"v":155},{"s":"n","t":22.5,"v":154},{"s":"n","t":23,"v":156},{"s":"n","t":23.5,"v":156},{"s":"n","t":24,"v":157},{"s":"n","t":25,"v":158},{"s":"n","t":26,"v":159},{"s":"n","t":27,"v":160},{"s":"n","t":28,"v":159},{"s":"n","t":29,"v":160},{"s":"n","t":30,"v":159},{"s":"n","t":31,"v":160},{"s":"n","t":32,"v":160},
{"s":"o","t":0,"v":123},{"s":"o","t":1,"v":124},{"s":"o","t":2,"v":123},{"s":"o","t":3,"v":124},{"s":"o","t":4,"v":125},{"s":"o","t":5.31,"v":125},{"s":"o","t":6.5,"v":124},{"s":"o","t":8.15,"v":123},{"s":"o","t":9,"v":123},{"s":"o","t":10.02,"v":122},{"s":"o","t":10.99,"v":117},{"s":"o","t":11.7,"v":114},{"s":"o","t":12.49,"v":111},{"s":"o","t":13.5,"v":108},{"s":"o","t":14.5,"v":106},{"s":"o","t":16,"v":104},{"s":"o","t":16.99,"v":103},{"s":"o","t":18.5,"v":103},{"s":"o","t":20.26,"v":102},{"s":"o","t":22.73,"v":102},{"s":"o","t":24.5,"v":100},{"s":"o","t":26.99,"v":98},{"s":"o","t":29,"v":100},{"s":"o","t":32,"v":100},
{"s":"p","t":0,"v":92},{"s":"p","t":2,"v":93},{"s":"p","t":4.56,"v":95},{"s":"p","t":7.03,"v":98},{"s":"p","t":8.5,"v":100},{"s":"p","t":10.02,"v":102},{"s":"p","t":11.29,"v":100},{"s":"p","t":13.53,"v":98},{"s":"p","t":16,"v":98},{"s":"p","t":16.99,"v":94},{"s":"p","t":18.5,"v":92},{"s":"p","t":20.26,"v":91},{"s":"p","t":22.73,"v":89},{"s":"p","t":25.2,"v":89},{"s":"p","t":26.99,"v":90},{"s":"p","t":29.5,"v":91},{"s":"p","t":32,"v":93},
{"s":"q","t":0.82,"v":64},{"s":"q","t":2,"v":64},{"s":"q","t":3,"v":65},{"s":"q","t":4,"v":65},{"s":"q","t":5,"v":64},{"s":"q","t":5.76,"v":64},{"s":"q","t":7,"v":65},{"s":"q","t":8,"v":64},{"s":"q","t":9.05,"v":64},{"s":"q","t":9.42,"v":62},{"s":"q","t":10.02,"v":66},{"s":"q","t":10.8,"v":70},{"s":"q","t":11.51,"v":73},{"s":"q","t":12.3,"v":76},{"s":"q","t":13.01,"v":78},{"s":"q","t":13.53,"v":77},{"s":"q","t":13.76,"v":73},{"s":"q","t":14.5,"v":75},{"s":"q","t":16,"v":75},{"s":"q","t":16.99,"v":77},{"s":"q","t":18.5,"v":76},{"s":"q","t":20.26,"v":75},{"s":"q","t":21.5,"v":76},{"s":"q","t":22.73,"v":77},{"s":"q","t":25,"v":77},{"s":"q","t":26.99,"v":78},{"s":"q","t":29.5,"v":80},{"s":"q","t":32,"v":82}
],
"cnt": [
{"t":3.14,"n":0.5},{"t":5.76,"n":0.3},{"t":8.3,"n":0.3},{"t":9.2,"n":2.4},{"t":9.27,"n":1.9},{"t":10.24,"n":2.6},{"t":10.32,"n":1.4},{"t":13.38,"n":1},{"t":13.53,"n":1},{"t":13.61,"n":0.7},{"t":13.98,"n":3.8},{"t":14.06,"n":6},{"t":14.13,"n":7.9},{"t":14.21,"n":4.3},{"t":14.28,"n":1.4},{"t":15.1,"n":1.4},{"t":15.18,"n":2.6},{"t":15.25,"n":3.8},{"t":15.33,"n":7.1},{"t":15.4,"n":4.3},{"t":15.48,"n":2.4},{"t":15.55,"n":1.4},{"t":15.63,"n":0.7},{"t":16.52,"n":1.9},{"t":16.67,"n":10.7},{"t":16.82,"n":11.4},{"t":16.9,"n":1.9},{"t":18.09,"n":7.1},{"t":18.24,"n":1.2},{"t":19.44,"n":1.9},{"t":19.51,"n":3.6},{"t":19.59,"n":5.5},{"t":19.66,"n":7.1},{"t":19.74,"n":9},{"t":19.81,"n":5.5},{"t":23.85,"n":1.9},{"t":23.93,"n":3.8},{"t":24,"n":3.1},{"t":24.07,"n":5},{"t":24.15,"n":3.8},{"t":24.22,"n":5.2},{"t":24.3,"n":1.4},{"t":31.93,"n":0.5}
],
"rain": [
{"t":0.97,"mm":10},{"t":10.02,"mm":6},{"t":10.09,"mm":6},{"t":10.17,"mm":6},{"t":10.99,"mm":13},{"t":11.66,"mm":19},{"t":12.04,"mm":19},{"t":12.56,"mm":17},{"t":12.64,"mm":26},{"t":12.71,"mm":31},{"t":12.79,"mm":36},{"t":12.86,"mm":39},{"t":12.93,"mm":31},{"t":13.01,"mm":39},{"t":13.08,"mm":21},{"t":13.16,"mm":11},{"t":13.61,"mm":6},{"t":14.13,"mm":46},{"t":15.85,"mm":17},{"t":15.93,"mm":31},{"t":16,"mm":34},{"t":16.07,"mm":33},{"t":16.15,"mm":37},{"t":16.22,"mm":29},{"t":16.3,"mm":30},{"t":16.37,"mm":37},{"t":16.45,"mm":54},{"t":16.52,"mm":50},{"t":16.6,"mm":30},{"t":16.67,"mm":57},{"t":16.75,"mm":45},{"t":16.82,"mm":67},{"t":17.2,"mm":19},{"t":17.27,"mm":33},{"t":17.42,"mm":46},{"t":17.5,"mm":50},{"t":17.57,"mm":17},{"t":17.87,"mm":31},{"t":17.94,"mm":39},{"t":18.02,"mm":40},{"t":18.09,"mm":34},{"t":18.17,"mm":29},{"t":18.39,"mm":46},{"t":18.62,"mm":31},{"t":18.69,"mm":31},{"t":18.77,"mm":30},{"t":18.84,"mm":29},{"t":19.07,"mm":14},{"t":19.51,"mm":43},{"t":19.59,"mm":46},{"t":19.66,"mm":43},{"t":19.74,"mm":36},{"t":19.81,"mm":29},{"t":21.98,"mm":10},{"t":23.78,"mm":37},{"t":23.85,"mm":39},{"t":23.93,"mm":39},{"t":24,"mm":39},{"t":24.07,"mm":39},{"t":24.15,"mm":39},{"t":24.22,"mm":36}
]
},
"encoding": {"x": {"field": "t", "type": "quantitative", "scale": {"domain": [0, 32], "nice": false, "zero": false}, "axis": null}},
"layer": [
{
"encoding": {"y": {"field": "v", "type": "quantitative", "scale": {"domain": [0, 606], "nice": false, "zero": false}, "axis": null}},
"layer": [
{"data": {"values": [{"t": -9, "t2": 34.99, "v": -39, "v2": 658}]}, "mark": {"type": "rect", "filled": false, "stroke": "#111", "strokeWidth": 3.5, "strokeDash": [1.5, 5.5], "strokeCap": "round", "cornerRadius": 65, "clip": false}, "encoding": {"x2": {"field": "t2"}, "y2": {"field": "v2"}}},
{"data": {"values": [{"t": 6, "v": 0, "v2": 606}, {"t": 17, "v": 0, "v2": 606}, {"t": 27, "v": 0, "v2": 606}]}, "mark": {"type": "rule", "color": "#444", "strokeWidth": 1, "strokeDash": [3, 2]}, "encoding": {"y2": {"field": "v2"}}},
{"data": {"values": [{"t": 1, "v": 599, "v2": 606}, {"t": 11, "v": 599, "v2": 606}, {"t": 22, "v": 599, "v2": 606}]}, "mark": {"type": "rule", "color": "#222", "strokeWidth": 1}, "encoding": {"y2": {"field": "v2"}}},
{"data": {"values": [{"t": 0, "t2": 32, "v": 32}]}, "mark": {"type": "rule", "color": "#222", "strokeWidth": 1}, "encoding": {"x2": {"field": "t2"}}},
{"data": {"name": "tr"}, "mark": {"type": "line", "color": "#222", "strokeWidth": 1, "interpolate": "monotone", "clip": false}, "encoding": {"detail": {"field": "s"}}},
{"data": {"values": [{"t": 17.08, "v": 0, "v2": 208}]}, "mark": {"type": "rule", "color": "#000", "strokeWidth": 2}, "encoding": {"y2": {"field": "v2"}}},
{"data": {"values": [{"t": 20.26, "v": 0, "v2": 80}]}, "mark": {"type": "rule", "color": "#888", "strokeWidth": 1}, "encoding": {"y2": {"field": "v2"}}},
{"data": {"values": [{"t": 10.3, "t2": 21.3, "v": 208}]}, "mark": {"type": "rule", "color": "#000", "strokeWidth": 2.5}, "encoding": {"x2": {"field": "t2"}}},
{"data": {"values": [{"t": 10.39, "v": 208, "d": "L"}, {"t": 21.08, "v": 208, "d": "R"}]}, "mark": {"type": "point", "filled": true, "color": "#000", "opacity": 1, "size": 200, "strokeWidth": 0}, "encoding": {"shape": {"field": "d", "type": "nominal", "scale": {"domain": ["L", "R"], "range": ["triangle-left", "triangle-right"]}, "legend": null}}},
{"data": {"values": [{"t": 26.32, "v": 608, "v2": 650}]}, "mark": {"type": "rule", "color": "#222", "strokeWidth": 1}, "encoding": {"y2": {"field": "v2"}}},
{"data": {"values": [{"t": 26.32, "t2": 26.55, "v": 650}]}, "mark": {"type": "rule", "color": "#222", "strokeWidth": 1}, "encoding": {"x2": {"field": "t2"}}},
{"data": {"values": [{"t": 25.87, "v": 651, "txt": "EXP."}]}, "mark": {"type": "text", "font": "DejaVu Sans Mono", "fontSize": 8.5, "color": "#111", "align": "right", "baseline": "top"}, "encoding": {"text": {"field": "txt"}}},
{"data": {"values": [{"t": 26.77, "v": 650, "txt": "5.0E-08 strain"}, {"t": 26.77, "v": 640, "txt": "60 mm/Hour"}, {"t": 26.77, "v": 630, "txt": "10 count/Hour"}]}, "mark": {"type": "text", "font": "DejaVu Sans Mono", "fontSize": 8.5, "color": "#111", "align": "left", "baseline": "top"}, "encoding": {"text": {"field": "txt"}}},
{"data": {"values": [{"t": 0.37, "v": -1.5, "txt": "N= 401"}, {"t": 6, "v": -1.5, "txt": "08/21"}, {"t": 17, "v": -1.5, "txt": "09/01"}, {"t": 27, "v": -1.5, "txt": "09/11"}]}, "mark": {"type": "text", "font": "DejaVu Sans Mono", "fontSize": 8, "color": "#111", "align": "left", "baseline": "top"}, "encoding": {"text": {"field": "txt"}}},
{"data": {"values": [{"t": -1.12, "v": 596, "txt": "/2"}]}, "mark": {"type": "text", "font": "DejaVu Sans Mono", "fontSize": 8, "color": "#111", "align": "left", "baseline": "middle"}, "encoding": {"text": {"field": "txt"}}},
{"data": {"values": [{"t": 15.1, "v": 251, "txt": "歪変化"}]}, "mark": {"type": "text", "font": "Noto Sans CJK JP", "fontSize": 19, "color": "#000", "align": "center", "baseline": "middle"}, "encoding": {"text": {"field": "txt"}}}
]
},
{"data": {"name": "cnt"}, "mark": {"type": "rule", "color": "#000", "strokeWidth": 1.4}, "encoding": {"y": {"field": "n", "type": "quantitative", "scale": {"domain": [-7.619, 136.667], "nice": false, "zero": false}, "axis": null}, "y2": {"datum": 0}}},
{"data": {"name": "rain"}, "mark": {"type": "rule", "color": "#000", "strokeWidth": 1.4}, "encoding": {"y": {"field": "mm", "type": "quantitative", "scale": {"domain": [0, 865.7], "nice": false, "zero": false}, "axis": null}, "y2": {"datum": 0}}}
],
"resolve": {"scale": {"y": "independent"}}
}
